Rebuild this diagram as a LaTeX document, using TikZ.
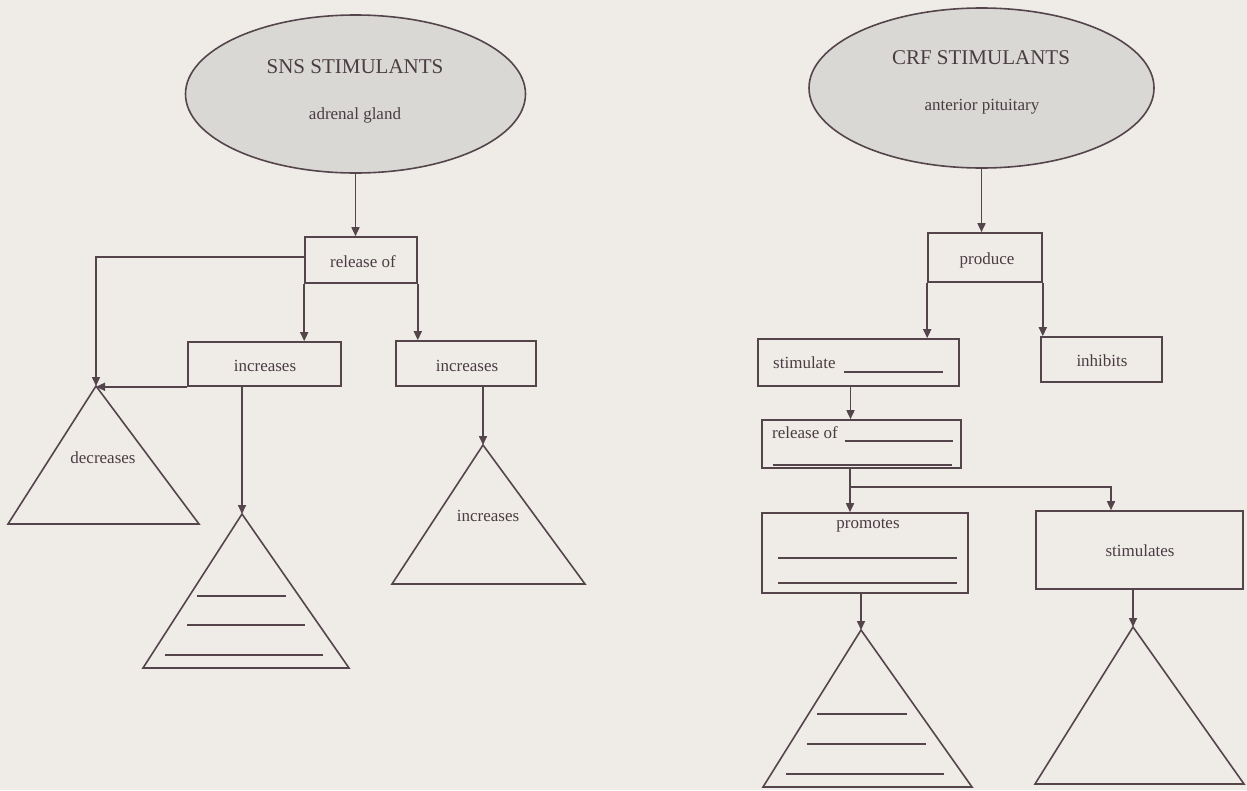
\documentclass[tikz,border=0pt]{standalone}
\usepackage{fontspec}
\setmainfont{Liberation Serif}
\usetikzlibrary{shapes.geometric,arrows.meta}
\definecolor{ink}{HTML}{54454C}
\definecolor{textink}{HTML}{4A3C43}
\definecolor{paper}{HTML}{EFECE8}
\definecolor{cloud}{HTML}{DAD8D5}
\tikzset{
  conn/.style={draw=ink, line width=1.6pt},
  arr/.style={conn, -{Triangle[length=9pt,width=8pt]}},
  box/.style={draw=ink, line width=1.6pt, rectangle, inner sep=0pt},
  oval/.style={draw=ink, line width=1.6pt, ellipse, fill=cloud, inner sep=0pt},
  lbl/.style={text=textink, font=\fontsize{17}{20}\selectfont, inner sep=0pt},
  heading/.style={text=textink, font=\fontsize{21}{25}\selectfont, inner sep=0pt},
  tri/.style={draw=ink, line width=1.6pt, line join=miter},
  blank/.style={draw=ink, line width=1.6pt},
}
\begin{document}
\begin{tikzpicture}[x=1pt,y=-1pt]
\useasboundingbox[fill=paper] (0,0) rectangle (1247,790);

% ---------- left chart: SNS stimulants ----------
\node[oval, minimum width=340pt, minimum height=158pt] (sns) at (355.5,94) {};
\node[heading] (snsT) at (355,67) {SNS STIMULANTS};
\node[lbl] (snsS) at (355,115) {adrenal gland};

\node[box, minimum width=112pt, minimum height=46pt] (rel1) at (361,260) {};
\node[lbl] (rel1T) at (363,262) {release of};
\node[box, minimum width=153pt, minimum height=44pt] (inc1) at (264.5,364) {};
\node[lbl] (inc1T) at (265,366) {increases};
\node[box, minimum width=140pt, minimum height=45pt] (inc2) at (466,363.5) {};
\node[lbl] (inc2T) at (467,366) {increases};

% triangles
\coordinate (decA) at (96,386);
\draw[tri] (decA) -- (8,524) -- (199,524) -- cycle;
\node[lbl] (decT) at (103,458) {decreases};

\coordinate (tri2A) at (242,514);
\draw[tri] (tri2A) -- (143,668) -- (349,668) -- cycle;
\draw[blank] (197,596) -- (286,596);
\draw[blank] (187,625) -- (305,625);
\draw[blank] (165,655) -- (323,655);

\coordinate (tri3A) at (483,445);
\draw[tri] (tri3A) -- (392,584) -- (585,584) -- cycle;
\node[lbl] (tri3T) at (488,516) {increases};

% connectors
\draw[arr] (sns.south) -- (sns.south |- rel1.north);
\draw[arr] ([yshift=3pt]rel1.west) -| (decA);
\draw[arr] (rel1.south west) -- (rel1.south west |- inc1.north);
\draw[arr] (rel1.south east) -- (rel1.south east |- inc2.north);
\draw[arr] (inc1.south west) -- (inc1.south west -| decA);
\draw[arr] (tri2A |- inc1.south) -- (tri2A);
\draw[arr] (tri3A |- inc2.south) -- (tri3A);

% ---------- right chart: CRF stimulants ----------
\node[oval, minimum width=345pt, minimum height=160pt] (crf) at (981.5,88) {};
\node[heading] (crfT) at (981,58) {CRF STIMULANTS};
\node[lbl] (crfS) at (982,107) {anterior pituitary};

\node[box, minimum width=114pt, minimum height=49pt] (prod) at (985,257.5) {};
\node[lbl] (prodT) at (987,260) {produce};

\node[box, minimum width=201pt, minimum height=47pt] (stim) at (858.5,362.5) {};
\node[lbl, anchor=west] (stimT) at (773,363) {stimulate};
\draw[blank] (844,372) -- (943,372);

\node[box, minimum width=121pt, minimum height=45pt] (inhib) at (1101.5,359.5) {};
\node[lbl] (inhibT) at (1102,361) {inhibits};

\node[box, minimum width=199pt, minimum height=48pt] (rel2) at (861.5,444) {};
\node[lbl, anchor=west] (rel2T) at (772,433) {release of};
\draw[blank] (845,441) -- (953,441);
\draw[blank] (773,465) -- (952,465);

\node[box, minimum width=206pt, minimum height=80pt] (prom) at (865,553) {};
\node[lbl] (promT) at (868,526) {promotes};
\draw[blank] (778,558) -- (957,558);
\draw[blank] (778,583) -- (957,583);

\node[box, minimum width=207pt, minimum height=78pt] (stims) at (1139.5,550) {};
\node[lbl] (stimsT) at (1140,551) {stimulates};

% triangles
\coordinate (tri4A) at (861,630);
\draw[tri] (tri4A) -- (763,787) -- (972,787) -- cycle;
\draw[blank] (817,714) -- (907,714);
\draw[blank] (807,744) -- (926,744);
\draw[blank] (786,774) -- (944,774);

\coordinate (tri5A) at (1133,627);
\draw[tri] (tri5A) -- (1035,784) -- (1244,784) -- cycle;

% connectors
\draw[arr] (crf.south) -- (crf.south |- prod.north);
\draw[arr] (prod.south west) -- (prod.south west |- stim.north);
\draw[arr] (prod.south east) -- (prod.south east |- inhib.north);
\draw[arr] ([xshift=-8pt]stim.south) -- ([xshift=-8pt]stim.south |- rel2.north);
\coordinate (fork) at (850,487);
\draw[conn] (fork |- rel2.south) -- (fork);
\draw[arr] (fork) -- (fork |- prom.north);
\draw[arr] (fork) -| ([xshift=-28.5pt]stims.north);
\draw[arr] (tri4A |- prom.south) -- (tri4A);
\draw[arr] (tri5A |- stims.south) -- (tri5A);
\end{tikzpicture}
\end{document}
